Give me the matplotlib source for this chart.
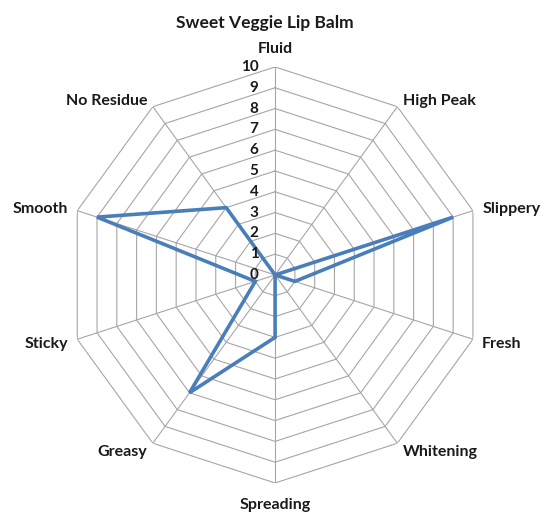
import numpy as np
import matplotlib
matplotlib.use('Agg')
import matplotlib.pyplot as plt

plt.rcParams['font.family'] = ['Lato', 'DejaVu Sans']

# attributes, clockwise from the top
categories = ['Fluid', 'High Peak', 'Slippery', 'Fresh', 'Whitening',
              'Spreading', 'Greasy', 'Sticky', 'Smooth', 'No Residue']
scores = [0, 0, 9, 1, 0, 3, 7, 1, 9, 4]
levels = [0, 1, 2, 3, 4, 5, 6, 7, 8, 9, 10]

n = len(categories)
angles = np.linspace(0, 2 * np.pi, n, endpoint=False)
closed = np.append(angles, angles[0])

fig = plt.figure(figsize=(5.41, 5.13), dpi=100)
ax = fig.add_axes([0.124, 0.0585, 0.769, 0.811], projection='polar')
ax.set_theta_zero_location('N')
ax.set_theta_direction(-1)
ax.set_ylim(0, 10)
ax.grid(False)
ax.spines['polar'].set_visible(False)
ax.set_xticks([])
ax.set_yticks([])

grid_col = '#a6a6a6'
# polygon rings
for lv in levels[1:]:
    ax.plot(closed, [lv] * (n + 1), color=grid_col, lw=0.8, zorder=1)
# spokes
for a in angles:
    ax.plot([a, a], [0, 10], color=grid_col, lw=0.8, zorder=1)

# data line
vals = scores + scores[:1]
ax.plot(closed, vals, color='#4a7ebb', lw=2.6, zorder=3, solid_joinstyle='miter')

# scale labels along the Fluid spoke
for lv in levels:
    ax.annotate(str(lv), xy=(0, lv), xytext=(-12, 0), textcoords='offset points',
                ha='right', va='center', fontsize=11, fontweight='bold', color='#1a1a1a')

# category labels
for a, name in zip(angles, categories):
    s, c = np.sin(a), np.cos(a)
    if abs(s) < 0.1:
        ha = 'center'
        va = 'bottom' if c > 0 else 'top'
        off = (0, 8 if c > 0 else -11)
    else:
        ha = 'left' if s > 0 else 'right'
        va = 'center'
        off = (7 * s, 6.6 * c - 1.15)
    ax.annotate(name, xy=(a, 10), xytext=off, textcoords='offset points',
                ha=ha, va=va, fontsize=11.5, fontweight='bold', color='#1a1a1a')

fig.text(0.49, 0.955, 'Sweet Veggie Lip Balm', ha='center', va='center',
         fontsize=12.5, fontweight='bold', color='#1a1a1a')

fig.savefig('out.png', dpi=100)
